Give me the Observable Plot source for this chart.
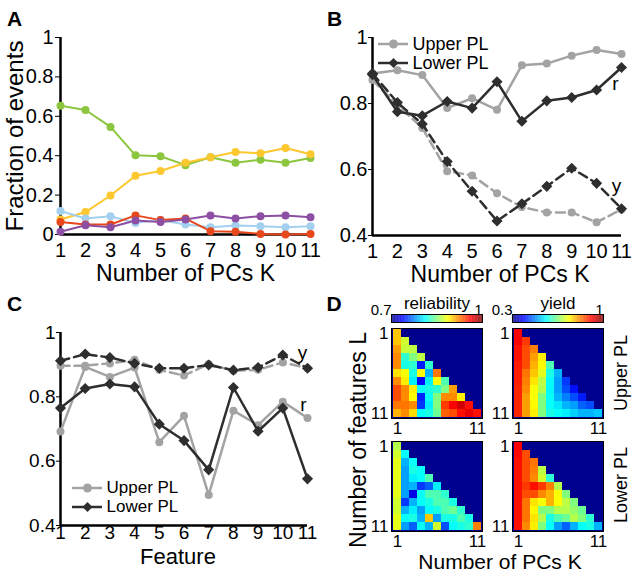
<!DOCTYPE html>
<html><head><meta charset="utf-8">
<script src="https://cdn.jsdelivr.net/npm/d3@7"></script>
<script src="https://cdn.jsdelivr.net/npm/@observablehq/plot@0.6"></script>
<style>
body{margin:0;background:#fff;}
#fig{position:relative;width:635px;height:576px;overflow:hidden;background:#fff;font-family:"Liberation Sans",Arial,Helvetica,sans-serif;color:#000;}
.lbl{position:absolute;white-space:nowrap;line-height:1;transform-origin:center center;}
</style></head><body><div id="fig"></div>
<script>
// ---------------- DATA ----------------
const pcs = [1,2,3,4,5,6,7,8,9,10,11];
const features = [1,2,3,4,5,6,7,8,9,10,11];
const featureCounts = [1,2,3,4,5,6,7,8,9,10,11];

// Panel A: fraction of events per cluster type
const classNames = ["green","yellow","light blue","red","purple"];
const fracGreen  = [0.653,0.632,0.546,0.402,0.397,0.352,0.392,0.364,0.380,0.364,0.388];
const fracYellow = [0.076,0.114,0.198,0.298,0.322,0.364,0.392,0.419,0.412,0.439,0.407];
const fracLBlue  = [0.119,0.081,0.093,0.059,0.073,0.051,0.037,0.046,0.042,0.037,0.042];
const fracRed    = [0.064,0.051,0.051,0.097,0.073,0.081,0.017,0.014,0.003,0.000,0.003];
const fracPurple = [0.014,0.047,0.037,0.071,0.063,0.076,0.097,0.081,0.093,0.097,0.088];
const fracTicks = [0,0.2,0.4,0.6,0.8,1];

// Panel B: reliability (r) and yield (y) vs number of PCs
const plNames = ["Upper PL","Lower PL"];
const bUpperR = [0.891,0.901,0.886,0.786,0.816,0.781,0.916,0.921,0.945,0.962,0.950];
const bLowerR = [0.887,0.775,0.763,0.806,0.786,0.866,0.746,0.808,0.818,0.841,0.909];
const bUpperY = [0.871,0.795,0.726,0.595,0.582,0.528,0.486,0.470,0.470,0.440,0.479];
const bLowerY = [0.891,0.803,0.738,0.624,0.534,0.444,0.496,0.549,0.604,0.558,0.481];

// Panel C: reliability (r) and yield (y) per feature
const cUpperR = [0.692,0.893,0.862,0.891,0.659,0.741,0.495,0.757,0.712,0.785,0.734];
const cLowerR = [0.765,0.826,0.840,0.831,0.715,0.664,0.573,0.829,0.693,0.765,0.545];
const cUpperY = [0.897,0.897,0.904,0.915,0.884,0.866,0.902,0.881,0.884,0.907,0.889];
const cLowerY = [0.912,0.933,0.922,0.904,0.889,0.889,0.899,0.883,0.891,0.930,0.889];
const rTicks = [0.4,0.6,0.8,1];

// Panel D: heatmaps, row L (features) has values for K = 1..L
const relDomain = [0.7, 1];
const yieldDomain = [0.3, 1];
const relUpper = [
 [0.904],
 [0.904,0.874],
 [0.916,0.871,0.868],
 [0.922,0.826,0.850,0.868],
 [0.922,0.820,0.826,0.745,0.826],
 [0.895,0.886,0.820,0.886,0.790,0.928],
 [0.922,0.892,0.808,0.739,0.808,0.886,0.835],
 [0.940,0.922,0.892,0.814,0.820,0.826,0.850,0.916],
 [0.940,0.922,0.886,0.748,0.814,0.850,0.922,0.922,0.892],
 [0.928,0.928,0.922,0.754,0.808,0.850,0.946,0.964,0.976,0.958],
 [0.910,0.922,0.898,0.814,0.820,0.844,0.934,0.940,0.958,0.970,0.958]
];
const yieldUpper = [
 [0.916],
 [0.916,0.874],
 [0.902,0.860,0.825],
 [0.902,0.860,0.804,0.748],
 [0.895,0.860,0.790,0.741,0.615],
 [0.895,0.832,0.776,0.720,0.580,0.510],
 [0.895,0.825,0.755,0.692,0.566,0.496,0.426],
 [0.888,0.818,0.734,0.685,0.559,0.496,0.440,0.398],
 [0.888,0.804,0.734,0.650,0.566,0.510,0.475,0.440,0.405],
 [0.888,0.804,0.741,0.650,0.566,0.545,0.510,0.496,0.454,0.440],
 [0.888,0.804,0.748,0.650,0.580,0.566,0.552,0.531,0.510,0.510,0.524]
];
const relLower = [
 [0.865],
 [0.874,0.814],
 [0.880,0.790,0.814],
 [0.880,0.784,0.820,0.814],
 [0.880,0.784,0.808,0.814,0.835],
 [0.880,0.784,0.790,0.754,0.766,0.808],
 [0.880,0.784,0.730,0.814,0.835,0.835,0.826],
 [0.874,0.754,0.790,0.814,0.820,0.835,0.835,0.820],
 [0.874,0.790,0.808,0.784,0.814,0.820,0.835,0.844,0.826],
 [0.880,0.814,0.820,0.790,0.904,0.784,0.820,0.820,0.835,0.820],
 [0.880,0.784,0.766,0.814,0.790,0.874,0.760,0.814,0.820,0.826,0.925]
];
const yieldLower = [
 [0.916],
 [0.909,0.860],
 [0.902,0.860,0.832],
 [0.902,0.860,0.825,0.692],
 [0.902,0.860,0.818,0.706,0.594],
 [0.902,0.874,0.902,0.874,0.825,0.685],
 [0.902,0.860,0.860,0.818,0.790,0.734,0.650],
 [0.902,0.832,0.755,0.734,0.790,0.734,0.692,0.650],
 [0.902,0.832,0.741,0.650,0.650,0.685,0.685,0.664,0.636],
 [0.902,0.832,0.755,0.685,0.580,0.615,0.636,0.685,0.650,0.594],
 [0.902,0.818,0.748,0.650,0.566,0.496,0.454,0.510,0.566,0.580,0.510]
];

// ---------------- STYLE ----------------
const FONT = "'Liberation Sans', Arial, Helvetica, sans-serif";
const classColors = ["#8cc63f","#fdc72f","#a3d0ee","#e8471c","#8d4fa3"];
const plColors = ["#a3a3a3","#2e2e2e"];
const navy = "#00008f";
function jet(t){
  t = Math.max(0, Math.min(1, t));
  const c = v => Math.round(255*Math.max(0, Math.min(1, v)));
  return `rgb(${c(1.5-Math.abs(4*t-3))},${c(1.5-Math.abs(4*t-2))},${c(1.5-Math.abs(4*t-1))})`;
}
const fig = document.getElementById("fig");
function place(node, left, top){
  node.style.position = "absolute"; node.style.left = left+"px"; node.style.top = top+"px";
  fig.appendChild(node);
}
function st(size){ return {background:"none", fontFamily:FONT, fontSize:size+"px", color:"#000", overflow:"visible"}; }
function label(text, cx, cy, size, opts={}){
  const d = document.createElement("div");
  d.className = "lbl";
  d.textContent = text;
  d.style.fontSize = size+"px";
  d.style.fontWeight = opts.bold ? "bold" : "normal";
  d.style.left = cx+"px"; d.style.top = cy+"px";
  d.style.transform = `translate(-50%,-50%) rotate(${opts.rotate||0}deg)`;
  fig.appendChild(d);
}
const mid = {textAnchor: "middle", lineAnchor: "middle"};

// ---------------- PANEL A ----------------
const fracSeries = [fracGreen, fracYellow, fracLBlue, fracRed, fracPurple];
const tableA = classNames.flatMap((c,i) => fracSeries[i].map((v,j) => ({K: pcs[j], v, c})));
place(Plot.plot({
  width: 320, height: 290, marginLeft: 60, marginRight: 10, marginTop: 37, marginBottom: 56,
  style: st(20),
  x: {domain: [pcs[0], pcs[pcs.length-1]], ticks: pcs, tickSize: 0, tickPadding: 8, label: null},
  y: {domain: [0, 1], ticks: fracTicks, tickFormat: d => String(d), tickSize: 5, tickPadding: 2, label: null},
  color: {domain: classNames, range: classColors},
  marks: [
    Plot.ruleY([0], {strokeWidth: 2.5}),
    Plot.ruleX([pcs[0]], {strokeWidth: 2.5}),
    Plot.line(tableA, {x: "K", y: "v", z: "c", stroke: "c", strokeWidth: 2}),
    Plot.dot(tableA, {x: "K", y: "v", fill: "c", r: 4}),
    Plot.text(["Number of PCs K"], {...mid, frameAnchor: "bottom", dy: 39.5, fontSize: 23}),
    Plot.text(["Fraction of events"], {...mid, frameAnchor: "left", dx: -45, rotate: -90, fontSize: 24})
  ]
}), 0, 0);

// ---------------- PANELS B & C ----------------
function plChart({xs, uR, lR, uY, lY, mt, mb, ml, mr, h, xPad, tickFont, xLabel, xLabelSize, xLabelDy, xLabelDx, rDx, rDy, yDx, yDy, rFrom, yFrom}){
  const row = arr => arr.map((v,j) => ({x: xs[j], v}));
  const U_R = row(uR), L_R = row(lR), U_Y = row(uY), L_Y = row(lY);
  const last = a => [a[a.length-1]];
  const src = {uR: U_R, lR: L_R, uY: U_Y, lY: L_Y};
  return Plot.plot({
    width: 320, height: h, marginLeft: ml, marginRight: mr, marginTop: mt, marginBottom: mb,
    style: st(tickFont),
    x: {domain: [xs[0], xs[xs.length-1]], ticks: xs, tickSize: 0, tickPadding: xPad, label: null},
    y: {domain: [rTicks[0], rTicks[rTicks.length-1]], ticks: rTicks, tickFormat: d => String(d), tickSize: 4, tickPadding: 1, label: null},
    marks: [
      Plot.ruleY([rTicks[0]], {strokeWidth: 2.5}),
      Plot.ruleX([xs[0]], {strokeWidth: 2.5}),
      Plot.line(U_Y, {x: "x", y: "v", stroke: plColors[0], strokeWidth: 2.5, strokeDasharray: "9,5"}),
      Plot.line(U_R, {x: "x", y: "v", stroke: plColors[0], strokeWidth: 2.5}),
      Plot.dot(U_Y, {x: "x", y: "v", fill: plColors[0], r: 4}),
      Plot.dot(U_R, {x: "x", y: "v", fill: plColors[0], r: 4}),
      Plot.line(L_Y, {x: "x", y: "v", stroke: plColors[1], strokeWidth: 2.5, strokeDasharray: "9,5"}),
      Plot.line(L_R, {x: "x", y: "v", stroke: plColors[1], strokeWidth: 2.5}),
      Plot.dot(L_Y, {x: "x", y: "v", fill: plColors[1], symbol: "diamond2", r: 5}),
      Plot.dot(L_R, {x: "x", y: "v", fill: plColors[1], symbol: "diamond2", r: 5}),
      Plot.text(last(src[rFrom]), {...mid, x: "x", y: "v", text: () => "r", dx: rDx, dy: rDy, fontSize: 19}),
      Plot.text(last(src[yFrom]), {...mid, x: "x", y: "v", text: () => "y", dx: yDx, dy: yDy, fontSize: 19}),
      Plot.text([xLabel], {...mid, frameAnchor: "bottom", dy: xLabelDy, dx: xLabelDx, fontSize: xLabelSize})
    ]
  });
}
function plLegend(left, top, rowH, fontSize){
  place(Plot.plot({
    width: 140, height: rowH*2, marginLeft: 0, marginRight: 110, marginTop: 0, marginBottom: 0,
    style: st(fontSize),
    x: {domain: [0, 1], axis: null},
    y: {type: "band", domain: plNames, padding: 0, axis: null},
    color: {domain: plNames, range: plColors},
    symbol: {domain: plNames, range: ["circle","diamond2"]},
    marks: [
      Plot.ruleY(plNames, {y: d => d, x1: 0, x2: 1, stroke: d => d, strokeWidth: 2.5}),
      Plot.dot(plNames, {y: d => d, x: 0.5, fill: d => d, symbol: d => d, r: 4.5}),
      Plot.text(plNames, {y: d => d, x: 1, dx: 4, textAnchor: "start", lineAnchor: "middle", text: d => d})
    ]
  }), left, top);
}

place(plChart({xs: pcs, uR: bUpperR, lR: bLowerR, uY: bUpperY, lY: bLowerY,
  mt: 37, mb: 55, ml: 57, mr: 14, h: 290, xPad: 8, tickFont: 20, xLabel: "Number of PCs K", xLabelSize: 23, xLabelDy: 39.5, xLabelDx: 3,
  rFrom: "lR", rDx: -6, rDy: 16, yFrom: "lY", yDx: -5, yDy: -23}), 315, 0);
plLegend(378, 33.5, 19, 18);

place(plChart({xs: features, uR: cUpperR, lR: cLowerR, uY: cUpperY, lY: cLowerY,
  mt: 47, mb: 51, ml: 60, mr: 13, h: 291, xPad: 0, tickFont: 19, xLabel: "Feature", xLabelSize: 22, xLabelDy: 31, xLabelDx: -6,
  rFrom: "uR", rDx: -4, rDy: -13, yFrom: "lY", yDx: -5, yDy: -15}), 0, 285);
plLegend(72, 478, 19, 17);

// ---------------- PANEL D ----------------
function heatmap(rows, domain, left, top){
  const cells = rows.flatMap((row, i) => row.map((v, j) => ({L: featureCounts[i], K: pcs[j], v})));
  place(Plot.plot({
    width: 123, height: 114, marginLeft: 30, marginRight: 2, marginTop: 2, marginBottom: 22,
    style: st(17),
    x: {type: "band", domain: pcs, padding: 0, ticks: [pcs[0], pcs[pcs.length-1]], tickSize: 0, tickPadding: 3, label: null},
    y: {type: "band", domain: featureCounts, padding: 0, ticks: [featureCounts[0], featureCounts[featureCounts.length-1]], tickSize: 0, tickPadding: 3, label: null},
    color: {type: "linear", domain, interpolate: jet},
    marks: [
      Plot.frame({fill: navy}),
      Plot.cell(cells, {x: "K", y: "L", fill: "v", inset: 0}),
      Plot.frame({stroke: "#000", strokeWidth: 1})
    ]
  }), left, top);
}
function colorbar(domain, title, left, top){
  const n = 120, step = (domain[1]-domain[0])/n;
  const ramp = d3.range(n).map(i => domain[0] + i*step);
  place(Plot.plot({
    width: 123, height: 28, marginLeft: 30, marginRight: 2, marginTop: 18, marginBottom: 2,
    style: st(15),
    x: {domain, axis: null},
    color: {type: "linear", domain, interpolate: jet},
    marks: [
      Plot.barX(ramp, {x1: d => d, x2: d => d + step*1.05, fill: d => d + step/2}),
      Plot.frame({stroke: "#000", strokeWidth: 1}),
      Plot.text(domain, {x: d => d, frameAnchor: "top", dy: -4.5, textAnchor: "end", lineAnchor: "middle", text: d => String(d)}),
      Plot.text([title], {...mid, frameAnchor: "top", dy: -11.4, fontSize: 17})
    ]
  }), left, top);
}
colorbar(relDomain, "reliability", 361, 296);
colorbar(yieldDomain, "yield", 482, 296);
heatmap(relUpper, relDomain, 361, 326);
heatmap(yieldUpper, yieldDomain, 482, 326);
heatmap(relLower, relDomain, 361, 439);
heatmap(yieldLower, yieldDomain, 482, 439);

label("Number of features L", 358, 440, 23, {rotate: -90});
label("Number of PCs K", 500, 560.5, 21);
label("Upper PL", 621, 373, 18, {rotate: -90});
label("Lower PL", 621, 485, 18, {rotate: -90});

// panel letters
label("A", 14.5, 18, 21, {bold: true});
label("B", 334.5, 18, 21, {bold: true});
label("C", 14.5, 303, 21, {bold: true});
label("D", 334, 303, 21, {bold: true});
</script>
</body></html>
